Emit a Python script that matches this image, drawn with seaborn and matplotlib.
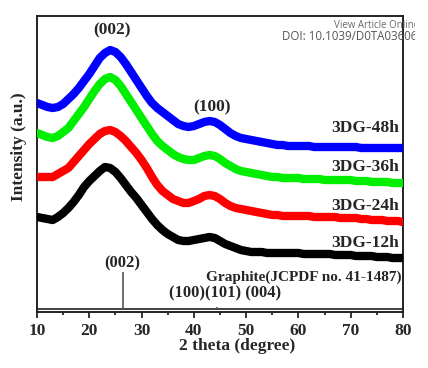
import matplotlib
matplotlib.use("Agg")
import matplotlib.pyplot as plt
import numpy as np
import pandas as pd
import seaborn as sns
from matplotlib.transforms import Bbox

# 2 theta grid (degree), one point per degree
two_theta = np.arange(10, 81)

# intensities (a.u., offset stacked)
i_48h = [209, 207, 205, 204, 205, 208, 213, 218, 224, 231, 238, 246, 254, 259, 262, 260, 255, 248, 240, 232,
         224, 216, 209, 204, 200, 196, 192, 188, 186, 185, 186, 188, 190, 191, 190, 187, 183, 179, 176, 174,
         173, 172, 171, 170, 169, 168, 167, 167, 166, 166, 166, 166, 166, 165, 165, 165, 165, 165, 165, 165,
         165, 165, 164, 164, 164, 164, 164, 164, 164, 164, 164]
i_36h = [179, 177, 175, 174, 176, 180, 184, 191, 198, 205, 213, 221, 228, 233, 235, 232, 226, 218, 210, 202,
         194, 186, 178, 171, 166, 162, 158, 155, 153, 152, 152, 154, 156, 157, 156, 153, 149, 146, 143, 141,
         140, 139, 138, 137, 136, 135, 135, 134, 134, 134, 134, 133, 133, 133, 133, 132, 132, 132, 132, 132,
         132, 131, 131, 131, 130, 130, 130, 130, 129, 129, 129]
i_24h = [135, 135, 135, 135, 138, 141, 144, 150, 156, 162, 168, 173, 178, 181, 182, 180, 176, 171, 165, 159,
         152, 144, 135, 127, 121, 117, 113, 111, 109, 109, 111, 113, 116, 117, 116, 113, 109, 106, 104, 103,
         102, 101, 100, 99, 98, 97, 97, 96, 96, 96, 96, 96, 96, 95, 95, 95, 95, 95, 94, 94,
         94, 94, 93, 93, 92, 92, 92, 91, 91, 91, 90]
i_12h = [95, 94, 93, 92, 95, 99, 104, 110, 117, 125, 131, 136, 141, 145, 144, 140, 134, 127, 120, 114,
         107, 100, 93, 87, 82, 78, 75, 72, 71, 71, 72, 73, 74, 75, 74, 71, 68, 66, 64, 62,
         61, 60, 60, 60, 59, 59, 59, 59, 59, 59, 59, 58, 58, 58, 58, 58, 58, 57, 57, 57,
         57, 56, 56, 56, 56, 55, 55, 55, 54, 54, 54]

samples = ["3DG-12h", "3DG-24h", "3DG-36h", "3DG-48h"]
colors = ["black", "#ff0000", "#00ee00", "#0000ff"]
label_y = [69, 106, 145, 184]

# graphite reference (JCPDF no. 41-1487)
graphite_pos = [26.5, 42.4, 44.5, 54.6]
graphite_h = [40, 4.5, 5.5, 4.5]
graphite_base = 3

df = pd.DataFrame({
    "two_theta": np.tile(two_theta, 4),
    "intensity": np.concatenate([i_12h, i_24h, i_36h, i_48h]),
    "sample": np.repeat(samples, len(two_theta)),
})

sns.set_style("ticks")
plt.rcParams['font.family'] = ['Liberation Serif', 'DejaVu Serif']

fig = plt.figure(figsize=(4.28, 3.68), dpi=100)
ax = fig.add_axes([37/428, 1-312/368, 366/428, 296/368])

sns.lineplot(data=df, x="two_theta", y="intensity", hue="sample", hue_order=samples,
             palette=colors, linewidth=6, legend=False, ax=ax, zorder=3)

ax.axhline(graphite_base, color="#333333", linewidth=1.3)
ax.vlines(graphite_pos, graphite_base, graphite_h, color="#555555", linewidth=1.2)

for name, ly in zip(samples, label_y):
    ax.text(79.3, ly, name, ha="right", va="center", fontsize=12.5, fontweight="bold", zorder=5)

ax.text(24.3, 282, "(002)", ha="center", va="center", fontsize=12.5, fontweight="bold")
ax.text(43.5, 205, "(100)", ha="center", va="center", fontsize=12.5, fontweight="bold")
ax.text(26.3, 49, "(002)", ha="center", va="center", fontsize=12, fontweight="bold")
ax.text(79.7, 35, "Graphite(JCPDF no. 41-1487)", ha="right", va="center", fontsize=11, fontweight="bold")
ax.text(35.3, 19, "(100)(101) (004)", ha="left", va="center", fontsize=12, fontweight="bold")

ax.set_xlim(10, 80)
ax.set_ylim(0, 296)
ax.set_xticks(np.arange(10, 81, 10))
ax.set_xticks(np.arange(15, 80, 10), minor=True)
ax.set_yticks([])
ax.tick_params(axis="x", which="major", length=4, width=1.3, labelsize=12.5, pad=4)
ax.tick_params(axis="x", which="minor", length=2.5, width=1.3)
for lab in ax.get_xticklabels():
    lab.set_fontweight("bold")
for sp in ax.spines.values():
    sp.set_linewidth(1.4)
    sp.set_color("#222222")

ax.set_xlabel("2 theta (degree)", fontsize=12.5, fontweight="bold")
ax.xaxis.set_label_coords(0.546, -0.088)
ax.set_ylabel("Intensity (a.u.)", fontsize=12.5, fontweight="bold")
ax.yaxis.set_label_coords(-0.027, 0.56)

# publisher watermark, cut at the right like the source image
clip = Bbox.from_extents(0, 0, 415, 368)
t1 = fig.text(419/428, 1-25/368, "View Article Online", ha="right", va="center",
              fontsize=7, color="#6a6a6a", family="Open Sans")
t2 = fig.text(424/428, 1-37/368, "DOI: 10.1039/D0TA03606E", ha="right", va="center",
              fontsize=8.3, color="#555555", family="Open Sans")
for t in (t1, t2):
    t.set_clip_box(clip)
    t.set_clip_on(True)

fig.savefig("out.png", dpi=100)
